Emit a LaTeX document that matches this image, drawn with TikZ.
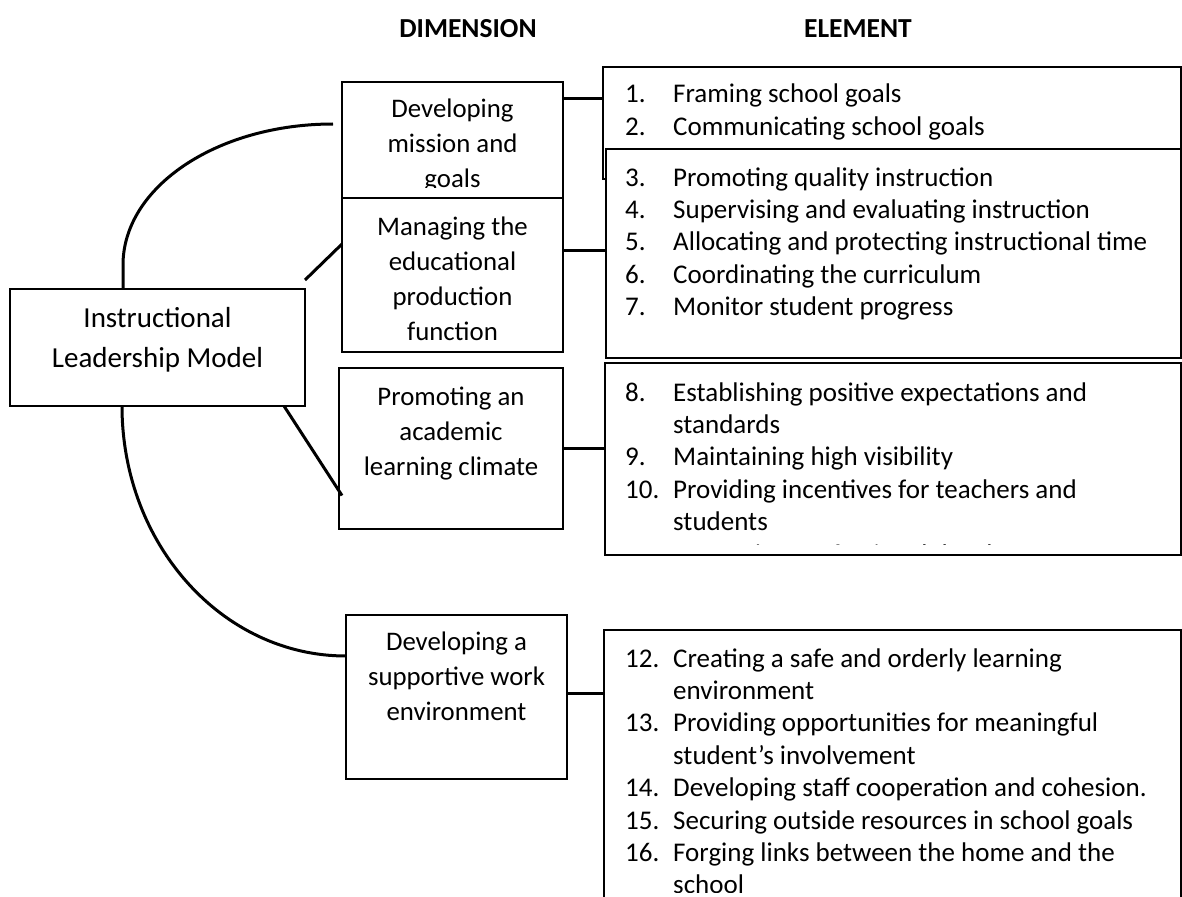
\documentclass[tikz,border=0pt]{standalone}
\usepackage{fontspec}
\setmainfont{Carlito}
\usetikzlibrary{calc}

% numbered list entry: fixed-width number column, then the text
\newcommand\li[2]{\makebox[48pt][l]{#1}#2}

\begin{document}
\begin{tikzpicture}[x=1pt,y=-1pt,
  box/.style={draw, line width=1.3pt, fill=white, inner sep=0pt, outer sep=0pt, anchor=north west},
  link/.style={line width=3pt},
  dimtext/.style={anchor=base, inner sep=0pt, font=\fontsize{26.8}{35}\selectfont},
  listtext/.style={anchor=base west, inner sep=0pt, font=\fontsize{27}{32.4}\selectfont},
  head/.style={anchor=base, inner sep=0pt, font=\fontsize{27.5}{33}\selectfont\bfseries}]
\useasboundingbox (0,0) rectangle (1182,896);
\clip (0,0) rectangle (1182,896);

% column headings
\node[head] (hdim) at (468,38) {DIMENSION};
\node[head] (helem) at (858,38) {ELEMENT};

% central box
\node[box, minimum width=295pt, minimum height=117pt] (main) at (10,289) {};
\node[anchor=base, inner sep=0pt, font=\fontsize{29}{40}\selectfont] (mtext)
  at ($(main.north)+(0,38)$) {\begin{tabular}[t]{@{}c@{}}Instructional\\Leadership Model\end{tabular}};

% dimension boxes
\node[box, minimum width=221pt, minimum height=116pt] (d1) at (342,82) {};
\node[box, minimum width=221pt, minimum height=154pt] (d2) at (342,198) {};
\node[box, minimum width=224pt, minimum height=161pt] (d3) at (339,368) {};
\node[box, minimum width=221pt, minimum height=164pt] (d4) at (346,615) {};

% element boxes
\node[box, minimum width=578pt, minimum height=112pt] (eA) at (603,67) {};
\node[box, minimum width=575pt, minimum height=209pt] (eB) at (606,149) {};
\node[box, line width=2pt, minimum width=576pt, minimum height=192pt] (eC) at (605,363) {};
\node[box, minimum width=577pt, minimum height=290pt] (eD) at (604,630) {};

% dimension labels
\begin{scope}
  \clip (d1.north west) rectangle ($(d1.north east)+(0,105)$);
  \node[dimtext] (t1) at ($(d1.north)+(0,36)$)
    {\begin{tabular}[t]{@{}c@{}}Developing\\mission and\\goals\end{tabular}};
\end{scope}
\node[dimtext] (t2) at ($(d2.north)+(0,37)$)
  {\begin{tabular}[t]{@{}c@{}}Managing the\\educational\\production\\function\end{tabular}};
\node[dimtext] (t3) at ($(d3.north)+(0,37)$)
  {\begin{tabular}[t]{@{}c@{}}Promoting an\\academic\\learning climate\end{tabular}};
\node[dimtext] (t4) at ($(d4.north)+(0,35)$)
  {\begin{tabular}[t]{@{}c@{}}Developing a\\supportive work\\environment\end{tabular}};

% element lists
\node[listtext] (lA) at ($(eA.north west)+(22,36)$)
  {\begin{tabular}[t]{@{}l@{}}\li{1.}{Framing school goals}\\\li{2.}{Communicating school goals}\end{tabular}};
\node[listtext] (lB) at ($(eB.north west)+(19,37)$)
  {\begin{tabular}[t]{@{}l@{}}\li{3.}{Promoting quality instruction}\\
   \li{4.}{Supervising and evaluating instruction}\\
   \li{5.}{Allocating and protecting instructional time}\\
   \li{6.}{Coordinating the curriculum}\\
   \li{7.}{Monitor student progress}\end{tabular}};
\begin{scope}
  \clip (eC.north west) rectangle ($(eC.north east)+(0,181)$);
  \node[listtext] (lC) at ($(eC.north west)+(20,38)$)
    {\begin{tabular}[t]{@{}l@{}}\li{8.}{Establishing positive expectations and}\\
     \li{}{standards}\\
     \li{9.}{Maintaining high visibility}\\
     \li{10.}{Providing incentives for teachers and}\\
     \li{}{students}\\
     \li{11.}{Promoting professional development}\end{tabular}};
\end{scope}
\begin{scope}
  \clip (eD.north west) rectangle ($(eD.north east)+(0,262)$);
  \node[listtext] (lD) at ($(eD.north west)+(21,37)$)
    {\begin{tabular}[t]{@{}l@{}}\li{12.}{Creating a safe and orderly learning}\\
     \li{}{environment}\\
     \li{13.}{Providing opportunities for meaningful}\\
     \li{}{student’s involvement}\\
     \li{14.}{Developing staff cooperation and cohesion.}\\
     \li{15.}{Securing outside resources in school goals}\\
     \li{16.}{Forging links between the home and the}\\
     \li{}{school}\end{tabular}};
\end{scope}

% links from the model to its dimensions
\coordinate (m1) at ($(main.north west)+(113,0)$);
\coordinate (e1) at ($(d1.north west)+(-9,42)$);
\draw[link] (m1) -- ($(m1)+(0,-24)$)
  .. controls ($(m1)+(0,-102)$) and ($(e1)+(-116,0)$) .. (e1);
\draw[link] ($(main.north east)+(0,-9)$) -- ($(d2.west)+(0,-31)$);
\draw[link] ($(main.south east)+(-21,0)$) -- ($(d3.west)+(3,47)$);
\coordinate (m2) at ($(main.south west)+(112,0)$);
\coordinate (e4) at ($(d4.north west)+(0,41)$);
\draw[link] (m2) .. controls ($(m2)+(0,138)$) and ($(e4)+(-124,0)$) .. (e4);

% links from dimensions to their elements
\coordinate (k1) at ($(d1.north east)+(0,17)$);
\draw[link] (k1) -- (k1 -| eA.west);
\coordinate (k2) at ($(d2.east)+(0,-25)$);
\draw[link] (k2) -- (k2 -| eB.west);
\draw[link] (d3.east) -- (d3.east -| eC.west);
\coordinate (k4) at ($(d4.east)+(0,-4)$);
\draw[link] (k4) -- (k4 -| eD.west);
\end{tikzpicture}
\end{document}
